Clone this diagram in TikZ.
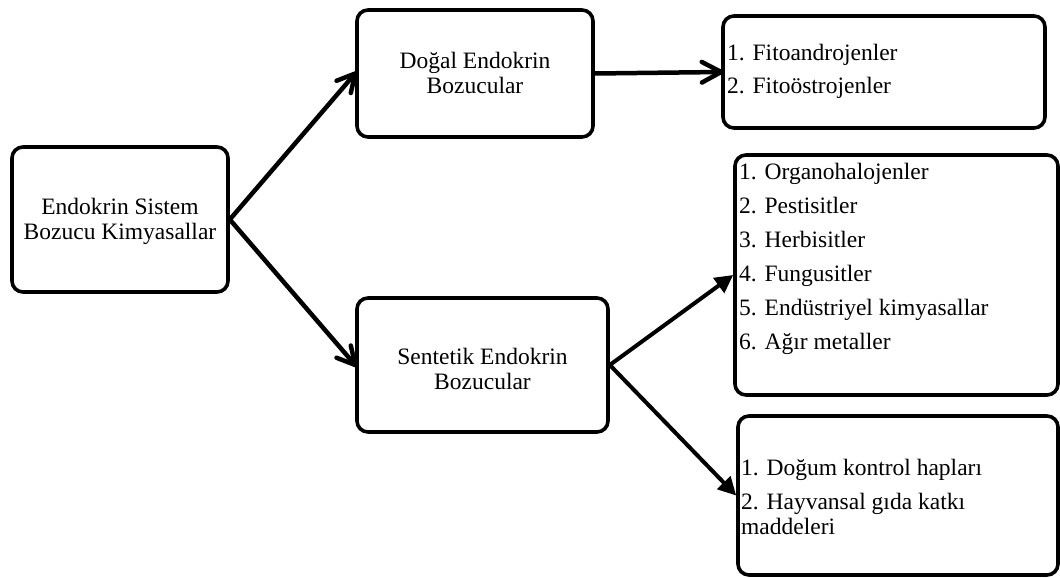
\documentclass[tikz,border=0pt]{standalone}
\usepackage{fontspec}
\setmainfont{Liberation Serif}
\usetikzlibrary{arrows.meta,calc}
\begin{document}
\begin{tikzpicture}[x=1pt,y=-1pt,
  box/.style={draw=black, line width=3.6pt, rounded corners=11pt, inner sep=0pt},
  txt/.style={font=\fontsize{23.5}{25}\selectfont, inner sep=0pt},
  barb/.style={line width=4.5pt},
  chev/.style={line width=4.5pt, line cap=round, line join=round},
  tri/.style={line width=4pt, arrows={-Triangle[length=18pt,width=18pt]}}]
\useasboundingbox (0,0) rectangle (1060,578);
% boxes
\node[box, minimum width=216pt, minimum height=145pt] (A) at (120,219.5) {};
\node[box, minimum width=236pt, minimum height=127pt] (B) at (475,73.5) {};
\node[box, minimum width=251pt, minimum height=134pt] (C) at (482.5,365) {};
\node[box, minimum width=322pt, minimum height=112pt] (D) at (884,72) {};
\node[box, minimum width=323pt, minimum height=240pt] (E) at (896.5,275) {};
\node[box, minimum width=320pt, minimum height=159pt] (F) at (898,495.5) {};
% texts
\node[txt, align=center] (tA) at (120,221) {Endokrin Sistem\\Bozucu Kimyasallar};
\node[txt, align=center] (tB) at (475,73) {Doğal Endokrin\\Bozucular};
\node[txt, align=center] (tC) at (482.5,369) {Sentetik Endokrin\\Bozucular};
\node[txt, align=left, anchor=west] (tD) at (727,71.5) {1. Fitoandrojenler\\[8pt]2. Fitoöstrojenler};
\node[txt, align=left, anchor=north west] (tE) at (739,163) {1. Organohalojenler\\[9pt]2. Pestisitler\\[9pt]3. Herbisitler\\[9pt]4. Fungusitler\\[9pt]5. Endüstriyel kimyasallar\\[9pt]6. Ağır metaller};
\node[txt, align=left, anchor=west] (tF) at (741,497) {1. Doğum kontrol hapları\\[9pt]2. Hayvansal gıda katkı\\maddeleri};
% connectors
\draw[barb] (A.east) -- (B.west);
\draw[chev] ($(B.west)!20pt!28:(A.east)$) -- (B.west) -- ($(B.west)!20pt!-28:(A.east)$);
\draw[barb] (A.east) -- (C.west);
\draw[chev] ($(C.west)!20pt!28:(A.east)$) -- (C.west) -- ($(C.west)!20pt!-28:(A.east)$);
\draw[barb] (B.east) -- (D.west);
\draw[chev] ($(D.west)!22pt!28:(B.east)$) -- (D.west) -- ($(D.west)!22pt!-28:(B.east)$);
\draw[tri] (C.east) -- (E.west);
\draw[tri] (C.east) -- (F.west);
\end{tikzpicture}
\end{document}
